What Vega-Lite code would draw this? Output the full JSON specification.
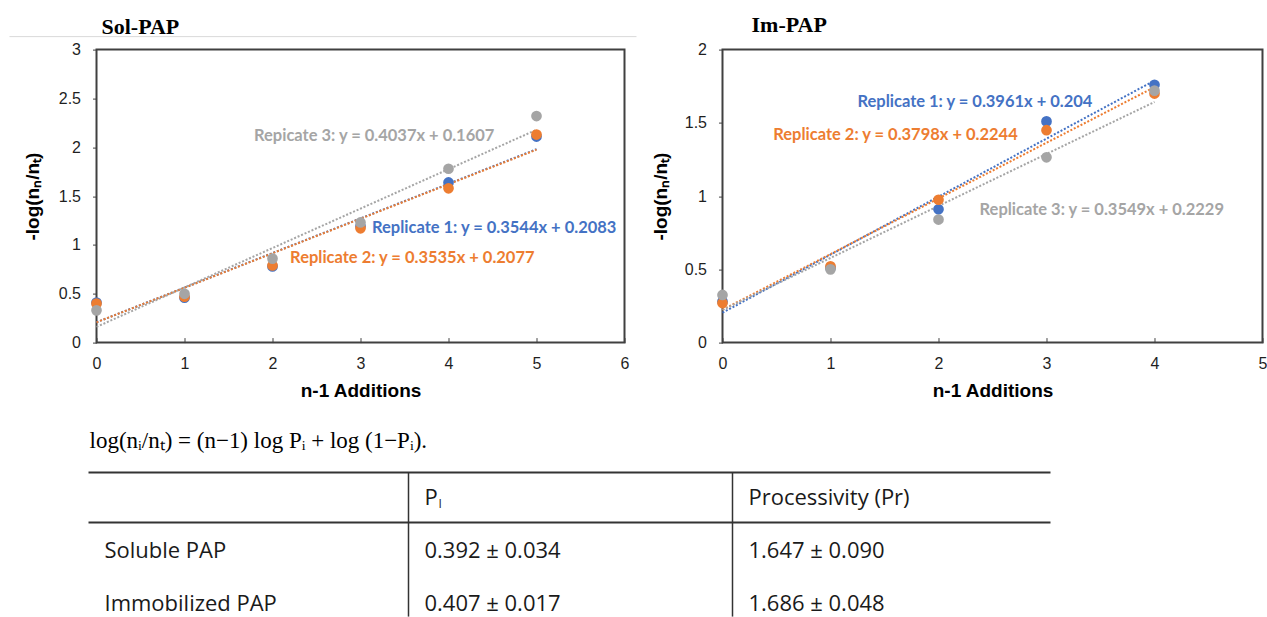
{
  "$schema": "https://vega.github.io/schema/vega-lite/v6.json",
  "padding": {"left": 7.5, "top": 11.6, "right": 0, "bottom": 0},
  "bounds": "flush",
  "spacing": 98,
  "background": "white",
  "config": {
    "view": {"stroke": "#404040", "strokeWidth": 2},
    "axis": {
      "domain": false, "grid": false,
      "labelFont": "Liberation Sans", "labelFontSize": 16, "labelColor": "#1f1f1f",
      "titleFont": "Liberation Sans", "titleFontSize": 19, "titleFontWeight": "bold", "titleColor": "#000000",
      "tickColor": "#404040", "tickWidth": 1,
      "labelFlush": false, "labelOverlap": false, "labelBound": false
    }
  },
  "datasets": {
    "solPts": [
      {"rep": "Replicate 1", "x": 0, "y": 0.41}, {"rep": "Replicate 1", "x": 1, "y": 0.46}, {"rep": "Replicate 1", "x": 2, "y": 0.78},
      {"rep": "Replicate 1", "x": 3, "y": 1.19}, {"rep": "Replicate 1", "x": 4, "y": 1.64}, {"rep": "Replicate 1", "x": 5, "y": 2.11},
      {"rep": "Replicate 2", "x": 0, "y": 0.40}, {"rep": "Replicate 2", "x": 1, "y": 0.47}, {"rep": "Replicate 2", "x": 2, "y": 0.79},
      {"rep": "Replicate 2", "x": 3, "y": 1.17}, {"rep": "Replicate 2", "x": 4, "y": 1.58}, {"rep": "Replicate 2", "x": 5, "y": 2.13},
      {"rep": "Replicate 3", "x": 0, "y": 0.33}, {"rep": "Replicate 3", "x": 1, "y": 0.50}, {"rep": "Replicate 3", "x": 2, "y": 0.86},
      {"rep": "Replicate 3", "x": 3, "y": 1.23}, {"rep": "Replicate 3", "x": 4, "y": 1.78}, {"rep": "Replicate 3", "x": 5, "y": 2.32}
    ],
    "solFit": [
      {"rep": "Replicate 1", "x": 0, "y": 0.2083}, {"rep": "Replicate 1", "x": 5, "y": 1.9803},
      {"rep": "Replicate 2", "x": 0, "y": 0.2077}, {"rep": "Replicate 2", "x": 5, "y": 1.9752},
      {"rep": "Replicate 3", "x": 0, "y": 0.1607}, {"rep": "Replicate 3", "x": 5, "y": 2.1792}
    ],
    "solLbl": [
      {"rep": "Replicate 3", "x": 1.79, "y": 2.12, "label": "Repicate 3: y = 0.4037x + 0.1607"},
      {"rep": "Replicate 1", "x": 3.13, "y": 1.17, "label": "Replicate 1: y = 0.3544x + 0.2083"},
      {"rep": "Replicate 2", "x": 2.2, "y": 0.87, "label": "Replicate 2: y = 0.3535x + 0.2077"}
    ],
    "imPts": [
      {"rep": "Replicate 1", "x": 0, "y": 0.28}, {"rep": "Replicate 1", "x": 1, "y": 0.51}, {"rep": "Replicate 1", "x": 2, "y": 0.91},
      {"rep": "Replicate 1", "x": 3, "y": 1.51}, {"rep": "Replicate 1", "x": 4, "y": 1.76},
      {"rep": "Replicate 2", "x": 0, "y": 0.27}, {"rep": "Replicate 2", "x": 1, "y": 0.52}, {"rep": "Replicate 2", "x": 2, "y": 0.975},
      {"rep": "Replicate 2", "x": 3, "y": 1.45}, {"rep": "Replicate 2", "x": 4, "y": 1.70},
      {"rep": "Replicate 3", "x": 0, "y": 0.325}, {"rep": "Replicate 3", "x": 1, "y": 0.50}, {"rep": "Replicate 3", "x": 2, "y": 0.84},
      {"rep": "Replicate 3", "x": 3, "y": 1.265}, {"rep": "Replicate 3", "x": 4, "y": 1.72}
    ],
    "imFit": [
      {"rep": "Replicate 1", "x": 0, "y": 0.204}, {"rep": "Replicate 1", "x": 4, "y": 1.7884},
      {"rep": "Replicate 2", "x": 0, "y": 0.2244}, {"rep": "Replicate 2", "x": 4, "y": 1.7436},
      {"rep": "Replicate 3", "x": 0, "y": 0.2229}, {"rep": "Replicate 3", "x": 4, "y": 1.6425}
    ],
    "imLbl": [
      {"rep": "Replicate 1", "x": 1.25, "y": 1.64, "label": "Replicate 1: y = 0.3961x + 0.204"},
      {"rep": "Replicate 2", "x": 0.47, "y": 1.417, "label": "Replicate 2: y = 0.3798x + 0.2244"},
      {"rep": "Replicate 3", "x": 2.38, "y": 0.907, "label": "Replicate 3: y = 0.3549x + 0.2229"}
    ],
    "formula": [{"r": -1, "c": 0, "text": "log(nᵢ/nₜ) = (n−1) log Pᵢ + log (1−Pᵢ)."}],
    "cells": [
      {"r": 0.5, "c": 1, "text": "P"},
      {"r": 0.5, "c": 2, "text": "Processivity (Pr)"},
      {"r": 1.5, "c": 0, "text": "Soluble PAP"},
      {"r": 1.5, "c": 1, "text": "0.392 ± 0.034"},
      {"r": 1.5, "c": 2, "text": "1.647 ± 0.090"},
      {"r": 2.5, "c": 0, "text": "Immobilized PAP"},
      {"r": 2.5, "c": 1, "text": "0.407 ± 0.017"},
      {"r": 2.5, "c": 2, "text": "1.686 ± 0.048"}
    ],
    "subs": [{"r": 0.5, "c": 1, "text": "I"}],
    "hlines": [{"r": 0, "c": 0, "c2": 3}, {"r": 1, "c": 0, "c2": 3}],
    "vlines": [{"c": 1, "r": 0, "r2": 3}, {"c": 2, "r": 0, "r2": 3}]
  },
  "hconcat": [
    {
      "width": 528, "height": 293,
      "resolve": {"scale": {"x": "independent", "y": "independent"}},
      "layer": [
        {
          "layer": [
            {
              "data": {"values": [{}]},
              "mark": {"type": "rule", "color": "#d9d9d9", "strokeWidth": 1, "clip": false},
              "encoding": {"x": {"datum": -0.989, "type": "quantitative"}, "x2": {"datum": 6.136}, "y": {"datum": 3.133, "type": "quantitative"}}
            },
            {
              "data": {"values": [{"name": "Sol-PAP"}]},
              "mark": {"type": "text", "align": "left", "baseline": "alphabetic", "font": "Liberation Serif", "fontSize": 22, "fontWeight": "bold", "color": "#000000", "clip": false},
              "encoding": {"x": {"datum": 0.057, "type": "quantitative"}, "y": {"datum": 3.164, "type": "quantitative"}, "text": {"field": "name"}}
            },
            {
              "data": {"name": "solFit"},
              "mark": {"type": "line", "strokeDash": [2, 1.8], "strokeWidth": 2},
              "encoding": {
                "x": {"field": "x", "type": "quantitative"},
                "y": {"field": "y", "type": "quantitative"},
                "color": {"field": "rep", "type": "nominal", "scale": {"domain": ["Replicate 1", "Replicate 2", "Replicate 3"], "range": ["#4472C4", "#ED7D31", "#A5A5A5"]}, "legend": null}
              }
            },
            {
              "data": {"name": "solPts"},
              "mark": {"type": "circle", "size": 115, "opacity": 1},
              "encoding": {
                "x": {"field": "x", "type": "quantitative", "scale": {"domain": [0, 6], "nice": false, "zero": false},
                  "axis": {"values": [0, 1, 2, 3, 4, 5, 6], "format": "~g", "tickSize": -5, "labelPadding": 18, "title": "n-1 Additions", "titlePadding": 10}},
                "y": {"field": "y", "type": "quantitative", "scale": {"domain": [0, 3], "nice": false, "zero": false},
                  "axis": {"values": [0, 0.25, 0.5, 0.75, 1, 1.25, 1.5, 1.75, 2, 2.25, 2.5, 2.75, 3], "format": "~g", "labelExpr": "datum.value % 0.5 === 0 ? datum.label : ''", "tickSize": 4, "labelPadding": 12, "title": "-log(nₙ/nₜ)", "titlePadding": 16}},
                "color": {"field": "rep", "type": "nominal", "legend": null}
              }
            },
            {
              "data": {"name": "solLbl"},
              "mark": {"type": "text", "align": "left", "baseline": "middle", "font": "Lato", "fontWeight": "bold", "fontSize": 16.5},
              "encoding": {
                "x": {"field": "x", "type": "quantitative"},
                "y": {"field": "y", "type": "quantitative"},
                "text": {"field": "label"},
                "color": {"field": "rep", "type": "nominal", "legend": null}
              }
            }
          ]
        },
        {
          "layer": [
            {
              "data": {"name": "hlines"},
              "mark": {"type": "rule", "color": "#333333", "strokeWidth": 2, "clip": false},
              "encoding": {
                "x": {"field": "c", "type": "quantitative", "scale": {"domain": [0, 1, 2, 3], "range": [-8, 312, 636, 954], "nice": false, "zero": false}, "axis": null},
                "x2": {"field": "c2"},
                "y": {"field": "r", "type": "quantitative", "scale": {"domain": [-1, 0, 1, 2, 2.5, 3], "range": [398, 423, 473, 529, 554, 567], "nice": false, "zero": false}, "axis": null}
              }
            },
            {
              "data": {"name": "vlines"},
              "mark": {"type": "rule", "color": "#333333", "strokeWidth": 1.5, "clip": false},
              "encoding": {
                "x": {"field": "c", "type": "quantitative"},
                "y": {"field": "r", "type": "quantitative"},
                "y2": {"field": "r2"}
              }
            },
            {
              "data": {"name": "formula"},
              "mark": {"type": "text", "align": "left", "baseline": "alphabetic", "dx": 1, "font": "Liberation Serif", "fontSize": 23, "color": "#000000"},
              "encoding": {
                "x": {"field": "c", "type": "quantitative"},
                "y": {"field": "r", "type": "quantitative"},
                "text": {"field": "text"}
              }
            },
            {
              "data": {"name": "cells"},
              "mark": {"type": "text", "align": "left", "baseline": "middle", "dx": 16, "font": "Open Sans", "fontSize": 22, "color": "#1a1a1a"},
              "encoding": {
                "x": {"field": "c", "type": "quantitative"},
                "y": {"field": "r", "type": "quantitative"},
                "text": {"field": "text"}
              }
            },
            {
              "data": {"name": "subs"},
              "mark": {"type": "text", "align": "left", "baseline": "middle", "dx": 30, "dy": 6, "font": "Open Sans", "fontSize": 12, "color": "#1a1a1a"},
              "encoding": {
                "x": {"field": "c", "type": "quantitative"},
                "y": {"field": "r", "type": "quantitative"},
                "text": {"field": "text"}
              }
            }
          ]
        }
      ]
    },
    {
      "width": 540, "height": 293,
      "layer": [
        {
          "data": {"values": [{"name": "Im-PAP"}]},
          "mark": {"type": "text", "align": "left", "baseline": "alphabetic", "font": "Liberation Serif", "fontSize": 22, "fontWeight": "bold", "color": "#000000", "clip": false},
          "encoding": {"x": {"datum": 0.269, "type": "quantitative"}, "y": {"datum": 2.123, "type": "quantitative"}, "text": {"field": "name"}}
        },
        {
          "data": {"name": "imFit"},
          "mark": {"type": "line", "strokeDash": [2, 1.8], "strokeWidth": 2},
          "encoding": {
            "x": {"field": "x", "type": "quantitative"},
            "y": {"field": "y", "type": "quantitative"},
            "color": {"field": "rep", "type": "nominal", "scale": {"domain": ["Replicate 1", "Replicate 2", "Replicate 3"], "range": ["#4472C4", "#ED7D31", "#A5A5A5"]}, "legend": null}
          }
        },
        {
          "data": {"name": "imPts"},
          "mark": {"type": "circle", "size": 115, "opacity": 1},
          "encoding": {
            "x": {"field": "x", "type": "quantitative", "scale": {"domain": [0, 5], "nice": false, "zero": false},
              "axis": {"values": [0, 1, 2, 3, 4, 5], "format": "~g", "tickSize": -5, "labelPadding": 18, "title": "n-1 Additions", "titlePadding": 10}},
            "y": {"field": "y", "type": "quantitative", "scale": {"domain": [0, 2], "nice": false, "zero": false},
              "axis": {"values": [0, 0.25, 0.5, 0.75, 1, 1.25, 1.5, 1.75, 2], "format": "~g", "labelExpr": "datum.value % 0.5 === 0 ? datum.label : ''", "tickSize": 4, "labelPadding": 12, "title": "-log(nₙ/nₜ)", "titlePadding": 14}},
            "color": {"field": "rep", "type": "nominal", "legend": null}
          }
        },
        {
          "data": {"name": "imLbl"},
          "mark": {"type": "text", "align": "left", "baseline": "middle", "font": "Lato", "fontWeight": "bold", "fontSize": 16.5},
          "encoding": {
            "x": {"field": "x", "type": "quantitative"},
            "y": {"field": "y", "type": "quantitative"},
            "text": {"field": "label"},
            "color": {"field": "rep", "type": "nominal", "legend": null}
          }
        }
      ]
    }
  ]
}
